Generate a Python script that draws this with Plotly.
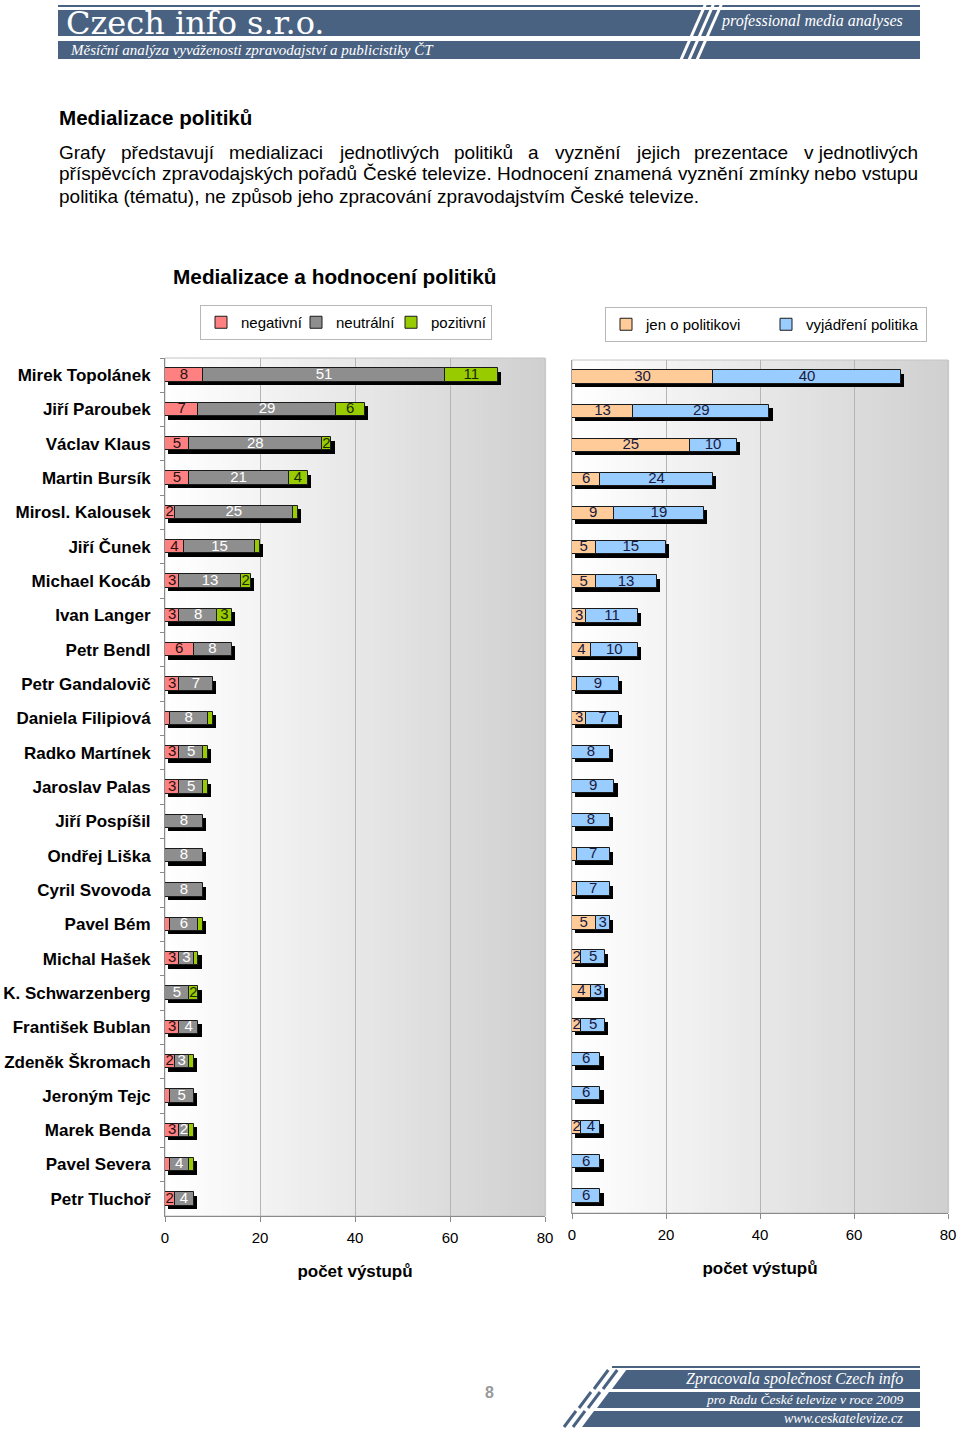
import plotly.graph_objects as go

# ---------------- data ----------------
politicians = [
    "Mirek Topolánek", "Jiří Paroubek", "Václav Klaus", "Martin Bursík",
    "Mirosl. Kalousek", "Jiří Čunek", "Michael Kocáb", "Ivan Langer",
    "Petr Bendl", "Petr Gandalovič", "Daniela Filipiová", "Radko Martínek",
    "Jaroslav Palas", "Jiří Pospíšil", "Ondřej Liška", "Cyril Svovoda",
    "Pavel Bém", "Michal Hašek", "K. Schwarzenberg", "František Bublan",
    "Zdeněk Škromach", "Jeroným Tejc", "Marek Benda", "Pavel Severa",
    "Petr Tluchoř",
]
negativni = [8, 7, 5, 5, 2, 4, 3, 3, 6, 3, 1, 3, 3, 0, 0, 0, 1, 3, 0, 3, 2, 1, 3, 1, 2]
neutralni = [51, 29, 28, 21, 25, 15, 13, 8, 8, 7, 8, 5, 5, 8, 8, 8, 6, 3, 5, 4, 3, 5, 2, 4, 4]
pozitivni = [11, 6, 2, 4, 1, 1, 2, 3, 0, 0, 1, 1, 1, 0, 0, 0, 1, 1, 2, 0, 1, 0, 1, 1, 0]
jen_o_politikovi = [30, 13, 25, 6, 9, 5, 5, 3, 4, 1, 3, 0, 0, 0, 1, 1, 5, 2, 4, 2, 0, 0, 2, 0, 0]
vyjadreni_politika = [40, 29, 10, 24, 19, 15, 13, 11, 10, 9, 7, 8, 9, 8, 7, 7, 3, 5, 3, 5, 6, 6, 4, 6, 6]
x_ticks = [0, 20, 40, 60, 80]

# ---------------- helpers ----------------
W, H = 960, 1432
def px(x): return x / W
def py(y): return 1 - y / H

BAR_W = 0.39
SH_Y = 0.10        # shadow shift along category axis
SH_X = 0.72        # shadow shift along value axis
OUTLINE = dict(color="#1a1a1a", width=1)
FONT = "Liberation Sans, Arial, sans-serif"
SERIF = "Liberation Serif, Times New Roman, serif"

def nz(vals):
    return [v if v else None for v in vals]

fig = go.Figure()

def add_stack(series, names, colors, textcolors, xa, ya, legend, lw):
    totals = [sum(t) for t in zip(*series)]
    # shadow
    fig.add_trace(go.Bar(
        y=politicians, x=totals, base=[SH_X] * len(totals), orientation="h",
        width=BAR_W, offset=-BAR_W / 2 + SH_Y,
        marker=dict(color="#000000", line=dict(width=0)),
        showlegend=False, hoverinfo="skip", xaxis=xa, yaxis=ya))
    bases = [0] * len(politicians)
    label_x, label_y, label_t, label_c = [], [], [], []
    for vals, name, col, tcol, w in zip(series, names, colors, textcolors, lw):
        fig.add_trace(go.Bar(
            y=politicians, x=nz(vals), base=list(bases), orientation="h",
            width=BAR_W, name=name, marker=dict(color=col, line=OUTLINE),
            xaxis=xa, yaxis=ya, legend=legend, legendwidth=w))
        for i, v in enumerate(vals):
            if v >= 2:
                label_x.append(bases[i] + v / 2)
                label_y.append(politicians[i])
                label_t.append(str(v))
                label_c.append(tcol)
        bases = [b + v for b, v in zip(bases, vals)]
    fig.add_trace(go.Scatter(
        x=label_x, y=label_y, text=label_t, mode="text",
        textfont=dict(family=FONT, size=15, color=label_c),
        textposition="middle center", showlegend=False, hoverinfo="skip",
        xaxis=xa, yaxis=ya, cliponaxis=False))

add_stack([negativni, neutralni, pozitivni],
          ["negativní", "neutrální", "pozitivní"],
          ["#FF8080", "#8E8E8E", "#99CC00"],
          ["#2a1010", "#ffffff", "#1a2a00"], "x", "y", "legend", [50, 50, 55])
add_stack([jen_o_politikovi, vyjadreni_politika],
          ["jen o politikovi", "vyjádření politika"],
          ["#FFCC99", "#99CCFF"],
          ["#1a1a40", "#1a1a40"], "x2", "y2", "legend2", [115, 115])

# ---------------- axes ----------------
L_X = [165, 545]; L_Y = [358, 1216]
R_X = [572, 948]; R_Y = [360, 1213]
n = len(politicians)
y_range = [n - 0.5, -0.5]

common_x = dict(range=[0, 80], tickvals=x_ticks, showgrid=True, gridcolor="#b5b5b5",
                gridwidth=1, zeroline=False, showline=True, linecolor="#8a8a8a",
                ticks="outside", ticklen=5, tickcolor="#8a8a8a", automargin=False,
                ticklabelstandoff=3,
                tickfont=dict(family=FONT, size=15, color="#000000"),
                fixedrange=True)
xtitle = dict(text="počet výstupů", standoff=20,
              font=dict(family=FONT, size=17, color="#000", weight="bold"))
fig.update_layout(
    xaxis=dict(domain=[px(L_X[0]), px(L_X[1])], anchor="y", **common_x, title=xtitle),
    yaxis=dict(domain=[py(L_Y[1]), py(L_Y[0])], anchor="x", type="category",
               categoryorder="array", categoryarray=politicians, range=y_range,
               autorange=False, automargin=False,
               showline=True, linecolor="#8a8a8a", ticks="outside", tickson="boundaries",
               ticklen=4, tickcolor="#8a8a8a", showgrid=False, ticklabelstandoff=10,
               tickfont=dict(family=FONT, size=17, color="#000000", weight="bold")),
    xaxis2=dict(domain=[px(R_X[0]), px(R_X[1])], anchor="y2", **common_x, title=xtitle),
    yaxis2=dict(domain=[py(R_Y[1]), py(R_Y[0])], anchor="x2", type="category",
                categoryorder="array", categoryarray=politicians, range=y_range,
                autorange=False, automargin=False,
                showline=True, linecolor="#a0a0a0", ticks="", showticklabels=False,
                showgrid=False),
)

# ---------------- gradient plot backgrounds ----------------
shapes = []
N = 60
for xr, yr in (("x domain", "y domain"), ("x2 domain", "y2 domain")):
    for i in range(N):
        t = i / (N - 1)
        g = int(round(255 - t * (255 - 208)))
        shapes.append(dict(type="rect", xref=xr, yref=yr, x0=i / N, x1=(i + 1) / N + 0.003,
                           y0=0, y1=1, fillcolor=f"rgb({g},{g},{g})",
                           line=dict(width=0), layer="below"))
    shapes.append(dict(type="rect", xref=xr, yref=yr, x0=0, x1=1, y0=0, y1=1,
                       fillcolor="rgba(0,0,0,0)", line=dict(color="#c4c4c4", width=1),
                       layer="below"))

# ---------------- header / footer graphics ----------------
BLUE = "#4a6282"
def prect(x0, y0, x1, y1, color):
    return dict(type="rect", xref="paper", yref="paper", x0=px(x0), x1=px(x1),
                y0=py(y1), y1=py(y0), fillcolor=color, line=dict(width=0))

def ppath(points, color):
    d = "M " + " L ".join(f"{px(x)},{py(y)}" for x, y in points) + " Z"
    return dict(type="path", xref="paper", yref="paper", path=d,
                fillcolor=color, line=dict(width=0))

def pline(x0, y0, x1, y1, color, w):
    return dict(type="line", xref="paper", yref="paper", x0=px(x0), y0=py(y0),
                x1=px(x1), y1=py(y1), line=dict(color=color, width=w))

shapes += [
    prect(58, 5, 920, 7, BLUE),
    prect(58, 10, 920, 36, BLUE),
    prect(58, 41, 920, 59, BLUE),
]
for k in range(3):
    shapes.append(pline(680 + 8 * k, 62, 706 + 8 * k, 3, "#ffffff", 3))

# footer
shapes.append(prect(612, 1366, 920, 1368, BLUE))
footer_bars = [(1370, 1389, 612), (1392, 1408, 597), (1411, 1427, 582)]
for (ya, yb, xl) in footer_bars:
    slant = (yb - ya) * 0.75
    shapes.append(ppath([(xl, yb), (xl + slant, ya), (920, ya), (920, yb)], BLUE))
    for k in (1, 2):
        xs = xl - 9 * k
        shapes.append(pline(xs, yb, xs + slant, ya, BLUE, 3))

fig.update_layout(shapes=shapes)

# ---------------- texts ----------------
ann = []
def text(x, y, s, size, color="#000000", family=FONT, anchor="left", weight="normal",
         style="normal"):
    ann.append(dict(x=px(x), y=py(y), xref="paper", yref="paper", text=s,
                    showarrow=False, xanchor=anchor, yanchor="middle",
                    font=dict(family=family, size=size, color=color, weight=weight,
                              style=style)))

# approximate Arial/Liberation Sans advance widths (per 1000 em) for justification
ADV = {" ": 278, ".": 278, ",": 278, "(": 333, ")": 333, "a": 556, "á": 556, "b": 556,
       "c": 500, "č": 500, "d": 556, "e": 556, "é": 556, "ě": 556, "f": 278, "g": 556,
       "h": 556, "i": 222, "í": 278, "j": 222, "k": 500, "l": 222, "m": 833, "n": 556,
       "ň": 556, "o": 556, "p": 556, "r": 333, "ř": 333, "s": 500, "š": 500, "t": 278,
       "u": 556, "ů": 556, "v": 500, "y": 500, "ý": 500, "z": 500, "ž": 500,
       "G": 778, "H": 722, "Č": 722}
def tw(s, size):
    return sum(ADV.get(c, 556) for c in s) * size / 1000

def justified(words, x0, x1, y, size):
    widths = [tw(w_, size) for w_ in words]
    gap = (x1 - x0 - sum(widths)) / (len(words) - 1)
    x = x0
    for w_, wd in zip(words, widths):
        text(x - 2, y, w_, size)
        x += wd + gap

text(64, 23, "Czech info s.r.o.", 32, "#ffffff", "DejaVu Serif, serif")
text(905, 21, "professional media analyses", 16, "#ffffff", SERIF, "right", style="italic")
text(68, 50, "Měsíční analýza vyváženosti zpravodajství a publicistiky ČT", 15, "#ffffff",
     SERIF, style="italic")

PS = 19
text(57, 118, "Medializace politiků", 20.6, weight="bold")
justified(["Grafy", "představují", "medializaci", "jednotlivých", "politiků", "a",
           "vyznění", "jejich", "prezentace", "v jednotlivých"], 59, 918, 152, PS)
justified(["příspěvcích", "zpravodajských", "pořadů", "České", "televize.", "Hodnocení",
           "znamená", "vyznění", "zmínky", "nebo", "vstupu"], 59, 918, 174, PS)
text(57, 196, "politika (tématu), ne způsob jeho zpracování zpravodajstvím České televize.", PS)

text(171, 277, "Medializace a hodnocení politiků", 20.8, weight="bold")

text(489, 1392, "8", 16, "#9a9a9a", weight="bold", anchor="center")
text(905, 1379, "Zpracovala společnost Czech info", 16, "#ffffff", SERIF, "right", style="italic")
text(905, 1399, "pro Radu České televize v roce 2009", 13.5, "#ffffff", SERIF, "right", style="italic")
text(905, 1418, "www.ceskatelevize.cz", 14, "#ffffff", SERIF, "right", style="italic")

fig.update_layout(annotations=ann)

# ---------------- layout ----------------
legend_common = dict(orientation="h", xanchor="left", yanchor="top",
                     bordercolor="#b8b8b8", borderwidth=1, bgcolor="#ffffff",
                     font=dict(family=FONT, size=15, color="#000000"),
                     entrywidthmode="pixels",
                     itemclick=False, itemdoubleclick=False)
fig.update_layout(
    width=W, height=H, margin=dict(l=0, r=0, t=0, b=0, autoexpand=False),
    paper_bgcolor="#ffffff", plot_bgcolor="#ffffff",
    barmode="overlay", bargap=0,
    font=dict(family=FONT, color="#000000"),
    legend=dict(x=px(200), y=py(305), **legend_common),
    legend2=dict(x=px(605), y=py(307), **legend_common),
    showlegend=True,
)

fig.write_html("out.html")
